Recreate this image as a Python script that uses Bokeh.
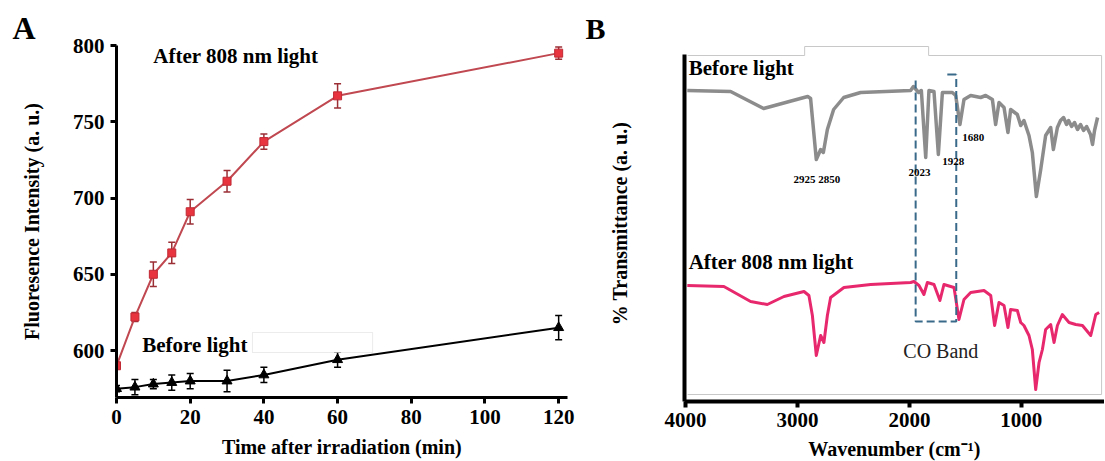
from bokeh.plotting import figure
from bokeh.models import Range1d, FixedTicker, Label, Whisker, TeeHead, ColumnDataSource, BoxAnnotation
from bokeh.layouts import row
from bokeh.embed import file_html
from bokeh.resources import INLINE

# ---------------- Panel A data ----------------
time_min = [0, 5, 10, 15, 20, 30, 40, 60, 120]
after_808 = [590, 622, 650, 664, 691, 711, 737, 767, 795]
after_808_err = [2, 3, 8, 7, 8, 7, 5, 8, 4]
before_light = [575, 576, 578, 579, 580, 580, 584, 594, 615]
before_light_err = [2, 5, 3, 5, 5, 7, 5, 5, 8]
a_xticks = [0, 20, 40, 60, 80, 100, 120]
a_yticks = [600, 650, 700, 750, 800]

# ---------------- Panel B data (IR spectra, a.u.) ----------------
wn_before = [3985, 3598, 3303, 2909, 2883, 2832, 2793, 2769, 2733, 2677, 2587, 2436,
             1989, 1964, 1917, 1893, 1854, 1825, 1780, 1741, 1705, 1616, 1586, 1548,
             1512, 1452, 1363, 1318, 1258, 1229, 1199, 1154, 1119, 1095, 1035, 1005,
             976, 931, 901, 865, 826, 782, 737, 713, 677, 649, 622, 595, 577, 550,
             524, 497, 470, 443, 416, 381, 363, 345, 318]
t_before = [312, 311, 294, 306, 304, 243, 253, 250, 273, 293, 305, 310,
            312, 316, 310, 312, 245, 312, 311, 248, 310, 310, 307, 278,
            303, 307, 305, 307, 303, 278, 300, 295, 270, 293, 288, 277,
            282, 267, 250, 206, 233, 267, 275, 253, 275, 282, 285, 278, 282, 276,
            280, 273, 278, 272, 276, 268, 258, 272, 285]
wn_after = [3985, 3658, 3419, 3270, 3121, 2942, 2898, 2867, 2832, 2793, 2764, 2733,
            2704, 2585, 2346, 1989, 1959, 1914, 1870, 1839, 1780, 1727, 1691, 1601,
            1557, 1512, 1452, 1333, 1273, 1238, 1199, 1154, 1119, 1095, 1035, 1005,
            976, 931, 901, 871, 841, 811, 782, 737, 707, 677, 633, 573, 513, 453,
            379, 334, 304]
t_after = [117, 116, 101, 98, 106, 111, 107, 87, 47, 67, 60, 87,
           105, 115, 118, 120, 121, 117, 108, 120, 118, 102, 118, 115,
           83, 103, 110, 112, 107, 77, 100, 97, 75, 93, 92, 80,
           77, 67, 53, 13, 40, 53, 73, 78, 60, 77, 88, 80, 78, 77,
           67, 88, 90]
b_xticks = [4000, 3000, 2000, 1000]

FONT = "Liberation Serif"


def style_axis(ax, width):
    ax.axis_line_color = "black"
    ax.axis_line_width = width
    ax.major_tick_line_color = "black"
    ax.major_tick_line_width = width
    ax.major_tick_out = 6
    ax.major_tick_in = 0
    ax.minor_tick_line_color = None
    ax.major_label_text_font = FONT
    ax.major_label_text_font_style = "bold"
    ax.major_label_text_font_size = "21px"
    ax.major_label_text_color = "black"
    ax.axis_label_text_font = FONT
    ax.axis_label_text_font_style = "bold"
    ax.axis_label_text_font_size = "20px"
    ax.axis_label_text_color = "black"


def add_label(p, x, y, text, size, bold=True, color="black", baseline="middle"):
    p.add_layout(Label(x=x, y=y, text=text, text_font=FONT, text_font_size=size,
                       text_font_style="bold" if bold else "normal",
                       text_color=color, text_baseline=baseline, text_align="left"))


def panel_title(p, text, size, offset, standoff):
    p.title.text = text
    p.title.align = "left"
    p.title.offset = offset
    p.title.standoff = standoff
    p.title.text_font = FONT
    p.title.text_font_style = "bold"
    p.title.text_font_size = size
    p.title.text_color = "black"


# ---------------- Panel A ----------------
pA = figure(frame_width=451, frame_height=352,
            min_border_left=116, min_border_right=15, min_border_top=45, min_border_bottom=64,
            x_range=Range1d(0, 122.4), y_range=Range1d(569.2, 800),
            output_backend="svg", toolbar_location=None)
pA.outline_line_color = None
pA.xgrid.visible = False
pA.ygrid.visible = False
style_axis(pA.xaxis[0], 3)
style_axis(pA.yaxis[0], 3)
pA.xaxis.ticker = FixedTicker(ticks=a_xticks)
pA.yaxis.ticker = FixedTicker(ticks=a_yticks)
pA.xaxis.axis_label = "Time after irradiation (min)"
pA.yaxis.axis_label = "Fluoresence Intensity (a. u.)"
pA.xaxis.major_label_standoff = 6
pA.xaxis.axis_label_standoff = 9
pA.yaxis.major_label_standoff = 6
pA.yaxis.axis_label_standoff = 27
panel_title(pA, "A", "32px", -104, 0)

srcR = ColumnDataSource(dict(x=time_min, y=after_808,
                             lo=[v - e for v, e in zip(after_808, after_808_err)],
                             hi=[v + e for v, e in zip(after_808, after_808_err)]))
srcK = ColumnDataSource(dict(x=time_min, y=before_light,
                             lo=[v - e for v, e in zip(before_light, before_light_err)],
                             hi=[v + e for v, e in zip(before_light, before_light_err)]))

pA.line("x", "y", source=srcR, line_color="#c04850", line_width=2)
pA.line("x", "y", source=srcK, line_color="black", line_width=2)
pA.add_layout(Whisker(source=srcR, base="x", lower="lo", upper="hi",
                      line_color="#9a2e34", line_width=1.5,
                      upper_head=TeeHead(size=7, line_color="#9a2e34", line_width=1.5),
                      lower_head=TeeHead(size=7, line_color="#9a2e34", line_width=1.5)))
pA.add_layout(Whisker(source=srcK, base="x", lower="lo", upper="hi",
                      line_color="black", line_width=1.5,
                      upper_head=TeeHead(size=7, line_color="black", line_width=1.5),
                      lower_head=TeeHead(size=7, line_color="black", line_width=1.5)))
pA.scatter("x", "y", source=srcR, marker="square", size=8,
           fill_color="#e8343f", line_color="#c02a35", line_width=1)
pA.scatter("x", "y", source=srcK, marker="triangle", size=10,
           fill_color="black", line_color="black")

pA.add_layout(BoxAnnotation(left=36.9, right=69.5, bottom=598.7, top=611.8,
                            fill_color="white", fill_alpha=1.0,
                            line_color="#bdbdbd", line_width=1))
add_label(pA, 10.0, 793.4, "After 808 nm light", "21px")
add_label(pA, 7.0, 603.3, "Before light", "21px")

# ---------------- Panel B ----------------
pB = figure(frame_width=420, frame_height=356,
            min_border_left=102, min_border_right=0, min_border_top=43, min_border_bottom=62,
            x_range=Range1d(4010, 256), y_range=Range1d(1, 357),
            output_backend="svg", toolbar_location=None)
pB.outline_line_color = None
pB.xgrid.visible = False
pB.ygrid.visible = False
style_axis(pB.xaxis[0], 4)
style_axis(pB.yaxis[0], 4)
pB.xaxis.ticker = FixedTicker(ticks=b_xticks)
pB.yaxis.ticker = FixedTicker(ticks=[])
pB.yaxis.major_tick_out = 0
pB.yaxis.major_label_standoff = 0
pB.yaxis.bounds = (1, 348)
pB.xaxis.axis_label = "Wavenumber (cm\u207b\u00b9)"
pB.yaxis.axis_label = "% Transmittance (a. u.)"
pB.xaxis.major_label_standoff = 5
pB.xaxis.axis_label_standoff = 8
pB.yaxis.axis_label_standoff = 54
panel_title(pB, "B", "30px", -99, 2)

# light frame with tab at top
pB.line(x=[3982, 2936, 2936, 1828, 1828, 282, 282, 3982],
        y=[347, 347, 356, 356, 347, 347, 8, 8],
        line_color="#c8c8c8", line_width=1)

pB.line(wn_before, t_before, line_color="#8c8c8c", line_width=3.5, line_join="round")
pB.line(wn_after, t_after, line_color="#e8286c", line_width=3, line_join="round")

# CO band dashed box
pB.line(x=[1944, 1944, 1581, 1581], y=[322, 81, 81, 328],
        line_color="#3a6a8a", line_width=2, line_dash="8 4")
pB.line(x=[1661, 1581], y=[328, 328], line_color="#3a6a8a", line_width=2)

add_label(pB, 3973, 335, "Before light", "21px")
add_label(pB, 3973, 141, "After 808 nm light", "21px")
add_label(pB, 3035, 224, "2925 2850", "11px")
add_label(pB, 2007, 230, "2023", "11px")
add_label(pB, 1706, 241, "1928", "11px")
add_label(pB, 1527, 265, "1680", "11px")
add_label(pB, 2054, 52, "CO Band", "20px", bold=False, color="#222222")

layout = row(pA, pB, spacing=0)
open("out.html", "w").write(file_html(layout, INLINE))
